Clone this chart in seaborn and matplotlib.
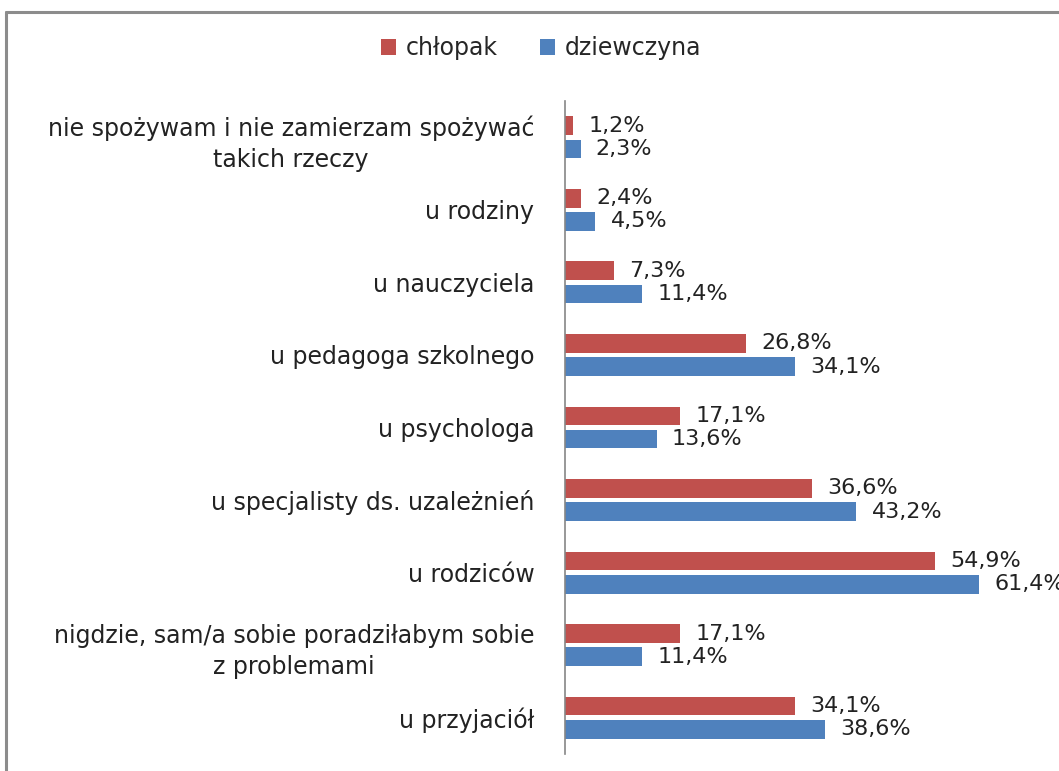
import matplotlib

matplotlib.use("Agg")
import matplotlib.pyplot as plt
import pandas as pd
import seaborn as sns

CATEGORIES = [
    "nie spożywam i nie zamierzam spożywać\ntakich rzeczy",
    "u rodziny",
    "u nauczyciela",
    "u pedagoga szkolnego",
    "u psychologa",
    "u specjalisty ds. uzależnień",
    "u rodziców",
    "nigdzie, sam/a sobie poradziłabym sobie\nz problemami",
    "u przyjaciół",
]
SERIES = ["chłopak", "dziewczyna"]
CHLOPAK = [1.2, 2.4, 7.3, 26.8, 17.1, 36.6, 54.9, 17.1, 34.1]
DZIEWCZYNA = [2.3, 4.5, 11.4, 34.1, 13.6, 43.2, 61.4, 11.4, 38.6]
COLORS = ["#C0504D", "#4F81BD"]


def main():
    df = pd.DataFrame({
        "kategoria": CATEGORIES * 2,
        "płeć": [SERIES[0]] * len(CATEGORIES) + [SERIES[1]] * len(CATEGORIES),
        "procent": CHLOPAK + DZIEWCZYNA,
    })

    sns.set_style("white")
    plt.rcParams["font.family"] = ["DejaVu Sans"]

    W, H = 1059, 771
    fig = plt.figure(figsize=(W / 100, H / 100), dpi=100)
    ax = fig.add_axes([565 / W, 1 - 754 / H, 472 / W, 653 / H])

    sns.barplot(
        data=df, y="kategoria", x="procent", hue="płeć",
        palette=COLORS, orient="h", width=0.64, gap=0.2,
        saturation=1, linewidth=0, ax=ax, legend=True,
    )
    ax.set_xlim(0, 70)
    ax.set_xlabel("")
    ax.set_ylabel("")
    ax.set_xticks([])

    for container in ax.containers:
        ax.bar_label(
            container,
            labels=[f"{v.get_width():.1f}%".replace(".", ",") for v in container],
            padding=11, fontsize=16, color="#222222",
        )

    for side in ["top", "right", "bottom"]:
        ax.spines[side].set_visible(False)
    ax.spines["left"].set_color("#868686")
    ax.spines["left"].set_linewidth(1.2)
    ax.tick_params(axis="y", length=0, pad=22, labelsize=17, labelcolor="#222222")
    for lbl in ax.get_yticklabels():
        lbl.set_multialignment("center")
        lbl.set_linespacing(1.4)

    ax.legend(
        loc="center", bbox_to_anchor=(541 / W, 1 - 48 / H),
        bbox_transform=fig.transFigure, ncol=2, frameon=False,
        fontsize=17, handlelength=0.65, handleheight=0.65,
        handletextpad=0.4, columnspacing=1.8,
    )

    # chart frame (cropped: only top and left edges visible)
    fig.add_artist(plt.Line2D([6 / W, 1], [1 - 12 / H, 1 - 12 / H],
                              transform=fig.transFigure, color="#8C8C8C", lw=2.2))
    fig.add_artist(plt.Line2D([6 / W, 6 / W], [0, 1 - 12 / H],
                              transform=fig.transFigure, color="#8C8C8C", lw=2.2))

    fig.savefig("out.png", dpi=100)
    plt.close(fig)


if __name__ == "__main__":
    main()
